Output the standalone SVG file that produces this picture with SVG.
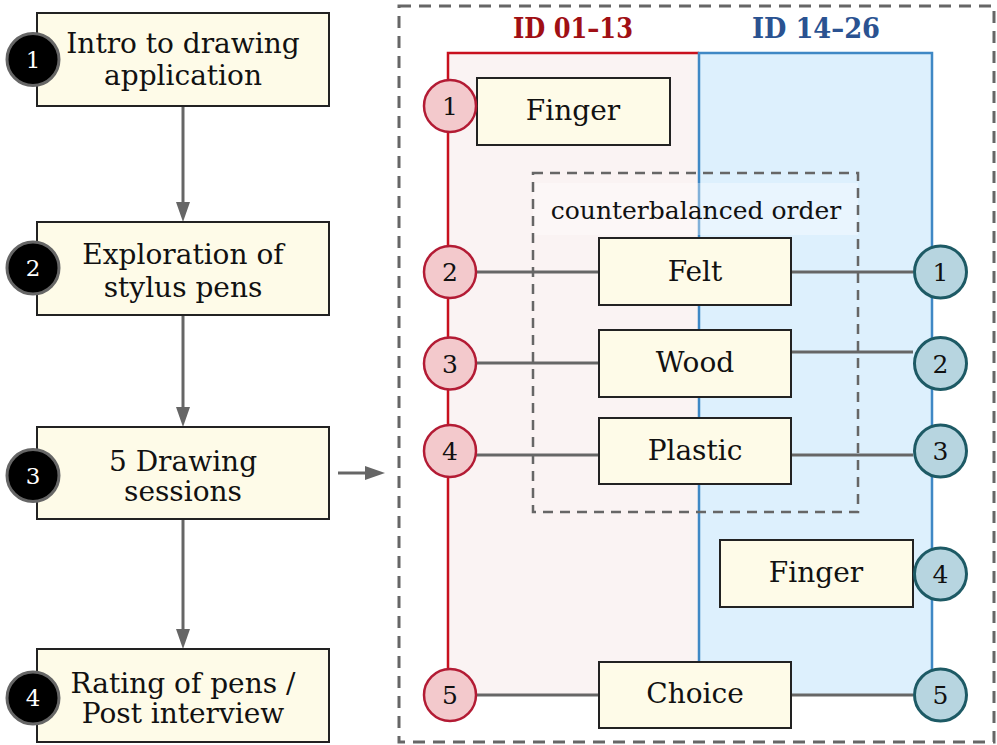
<svg xmlns="http://www.w3.org/2000/svg" width="997" height="745" viewBox="0 0 997 745">
<style>
  .box { fill: #fefbe8; stroke: #222; stroke-width: 2; }
  .t { font-family: "DejaVu Serif", "Liberation Serif", serif; font-size: 28px; fill: #111; text-anchor: middle; }
  .tn { font-family: "DejaVu Serif", "Liberation Serif", serif; font-size: 23px; fill: #fff; text-anchor: middle; }
  .tc { font-family: "DejaVu Serif", "Liberation Serif", serif; font-size: 25px; fill: #111; text-anchor: middle; }
  .tl { font-family: "DejaVu Serif", "Liberation Serif", serif; font-size: 25px; fill: #111; text-anchor: middle; }
  .bc { fill: #000; stroke: #666; stroke-width: 3; }
  .rc { fill: #f3c9cc; stroke: #b31b34; stroke-width: 2.5; }
  .uc { fill: #b7d5e0; stroke: #1d5a65; stroke-width: 3; }
  .conn { stroke: #666; stroke-width: 3; fill: none; }
  .hdr { font-family: "DejaVu Serif", "Liberation Serif", serif; font-size: 28px; font-weight: bold; text-anchor: middle; }
</style>
<defs>
  <marker id="ah" markerUnits="userSpaceOnUse" markerWidth="20" markerHeight="14" refX="0" refY="7" orient="auto">
    <path d="M0,0 L20,7 L0,14 z" fill="#666"/>
  </marker>
</defs>

<!-- outer dashed frame -->
<g id="frame">
  <rect x="399" y="6" width="595" height="736" fill="none" stroke="#666" stroke-width="3" stroke-dasharray="12 8"/>
</g>

<!-- columns -->
<g id="col-red">
  <rect x="448" y="53" width="251" height="642" fill="#faf3f3"/>
  <path d="M448,695 V53 H699" fill="none" stroke="#c8101e" stroke-width="2.5"/>
  <text class="hdr" x="573" y="38" fill="#a00f14" textLength="120" lengthAdjust="spacingAndGlyphs">ID 01–13</text>
</g>
<g id="col-blue">
  <rect x="699" y="53" width="233" height="642" fill="#ddf0fd"/>
  <path d="M699,662 V53 H932 V695" fill="none" stroke="#3f88c5" stroke-width="2.5"/>
  <text class="hdr" x="816" y="38" fill="#2a5291" textLength="128" lengthAdjust="spacingAndGlyphs">ID 14–26</text>
</g>

<!-- counterbalanced group -->
<g id="counterbalanced">
  <rect x="533" y="183" width="325" height="52" fill="#fff" fill-opacity="0.35"/>
  <rect x="533" y="173" width="325" height="339" fill="none" stroke="#666" stroke-width="2.5" stroke-dasharray="10 7"/>
  <text class="tl" x="696" y="219">counterbalanced order</text>
</g>

<!-- connectors -->
<g id="connectors">
  <line class="conn" x1="183" y1="106" x2="183" y2="202" marker-end="url(#ah)"/>
  <line class="conn" x1="183" y1="315" x2="183" y2="407" marker-end="url(#ah)"/>
  <line class="conn" x1="183" y1="519" x2="183" y2="629" marker-end="url(#ah)"/>
  <line class="conn" x1="338" y1="473" x2="365" y2="473" marker-end="url(#ah)"/>
  <line class="conn" x1="476" y1="272" x2="599" y2="272"/>
  <line class="conn" x1="791" y1="272" x2="913" y2="272"/>
  <line class="conn" x1="476" y1="363" x2="599" y2="363"/>
  <line class="conn" x1="791" y1="352" x2="913" y2="352"/>
  <line class="conn" x1="476" y1="455" x2="599" y2="455"/>
  <line class="conn" x1="791" y1="455" x2="913" y2="455"/>
  <line class="conn" x1="476" y1="695" x2="599" y2="695"/>
  <line class="conn" x1="791" y1="695" x2="913" y2="695"/>
</g>

<!-- left flow -->
<g id="step1">
  <rect class="box" x="37" y="13" width="292" height="93"/>
  <text class="t" x="183" y="53">Intro to drawing</text>
  <text class="t" x="183" y="85">application</text>
  <circle class="bc" cx="33" cy="59.5" r="26"/>
  <text class="tn" x="33" y="67.5">1</text>
</g>
<g id="step2">
  <rect class="box" x="37" y="222" width="292" height="93"/>
  <text class="t" x="183" y="264">Exploration of</text>
  <text class="t" x="183" y="297">stylus pens</text>
  <circle class="bc" cx="33" cy="268" r="26"/>
  <text class="tn" x="33" y="276">2</text>
</g>
<g id="step3">
  <rect class="box" x="37" y="427" width="292" height="92"/>
  <text class="t" x="183" y="471">5 Drawing</text>
  <text class="t" x="183" y="501">sessions</text>
  <circle class="bc" cx="33" cy="475.5" r="26"/>
  <text class="tn" x="33" y="483.5">3</text>
</g>
<g id="step4">
  <rect class="box" x="37" y="649" width="292" height="93"/>
  <text class="t" x="183" y="693">Rating of pens /</text>
  <text class="t" x="183" y="723">Post interview</text>
  <circle class="bc" cx="33" cy="698" r="26"/>
  <text class="tn" x="33" y="706">4</text>
</g>

<!-- right panel boxes -->
<g id="finger-a">
  <rect class="box" x="477" y="78" width="193" height="67"/>
  <text class="t" x="573" y="120">Finger</text>
</g>
<g id="felt">
  <rect class="box" x="599" y="238" width="192" height="67"/>
  <text class="t" x="695" y="281">Felt</text>
</g>
<g id="wood">
  <rect class="box" x="599" y="330" width="192" height="67"/>
  <text class="t" x="695" y="372">Wood</text>
</g>
<g id="plastic">
  <rect class="box" x="599" y="418" width="192" height="66"/>
  <text class="t" x="695" y="460">Plastic</text>
</g>
<g id="finger-b">
  <rect class="box" x="720" y="540" width="193" height="67"/>
  <text class="t" x="816" y="582">Finger</text>
</g>
<g id="choice">
  <rect class="box" x="599" y="662" width="192" height="66"/>
  <text class="t" x="695" y="703">Choice</text>
</g>

<!-- left order circles -->
<g id="red-1"><circle class="rc" cx="450" cy="106" r="26"/><text class="tc" x="450" y="115">1</text></g>
<g id="red-2"><circle class="rc" cx="450" cy="272" r="26"/><text class="tc" x="450" y="281">2</text></g>
<g id="red-3"><circle class="rc" cx="450" cy="363.5" r="26"/><text class="tc" x="450" y="372.5">3</text></g>
<g id="red-4"><circle class="rc" cx="450" cy="451" r="26"/><text class="tc" x="450" y="460">4</text></g>
<g id="red-5"><circle class="rc" cx="450" cy="695" r="26"/><text class="tc" x="450" y="704">5</text></g>

<!-- right order circles -->
<g id="blue-1"><circle class="uc" cx="940.5" cy="272" r="26"/><text class="tc" x="940.5" y="281">1</text></g>
<g id="blue-2"><circle class="uc" cx="940.5" cy="363.5" r="26"/><text class="tc" x="940.5" y="372.5">2</text></g>
<g id="blue-3"><circle class="uc" cx="940.5" cy="451" r="26"/><text class="tc" x="940.5" y="460">3</text></g>
<g id="blue-4"><circle class="uc" cx="940.5" cy="574" r="26"/><text class="tc" x="940.5" y="583">4</text></g>
<g id="blue-5"><circle class="uc" cx="940.5" cy="695" r="26"/><text class="tc" x="940.5" y="704">5</text></g>
</svg>
